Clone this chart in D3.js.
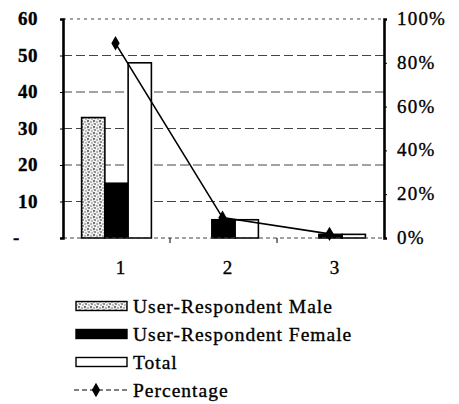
<!DOCTYPE html>
<html>
<head>
<meta charset="utf-8">
<script src="https://cdn.jsdelivr.net/npm/d3@7"></script>
<style>
  html, body { margin: 0; padding: 0; background: #fff; }
  svg { display: block; font-family: "Liberation Serif", "Times New Roman", serif; }
  text { fill: #000; stroke: #000; stroke-width: 0.35px; }
</style>
</head>
<body>
<svg id="chart" width="459" height="404"></svg>
<script>
// Respondent counts per group and the share of all users in each group
const categories = ["1", "2", "3"];
const seriesNames = ["User-Respondent Male", "User-Respondent Female", "Total"];
const maleValues = [33, 0, 0];
const femaleValues = [15, 5, 1];
const totalValues = [48, 5, 1];
const percentValues = [88.9, 9.3, 1.9];
const leftTicks = [0, 10, 20, 30, 40, 50, 60];
const leftTickLabels = ["-", "10", "20", "30", "40", "50", "60"];
const rightTicks = [0, 20, 40, 60, 80, 100];
const rightTickLabels = ["0%", "20%", "40%", "60%", "80%", "100%"];

const svg = d3.select("#chart");
const plot = { left: 63, right: 384, top: 19, bottom: 238 };

// stippled fill for the male bars
const defs = svg.append("defs");
const pat = defs.append("pattern")
  .attr("id", "stipple").attr("patternUnits", "userSpaceOnUse")
  .attr("width", 6).attr("height", 6);
pat.append("rect").attr("width", 6).attr("height", 6).attr("fill", "#f2f2f2");
[[1, 1, 1.1], [4, 2, 0.8], [2, 4, 0.9], [5, 5, 0.7], [0, 3, 0.6]].forEach(([cx, cy, r]) =>
  pat.append("circle").attr("cx", cx).attr("cy", cy).attr("r", r).attr("fill", "#666"));

const x0 = d3.scaleBand().domain(categories).range([plot.left, plot.right]).padding(0);
const x1 = d3.scaleBand().domain(seriesNames).range([0, x0.bandwidth()]).paddingInner(0).paddingOuter(0.8);
const yLeft = d3.scaleLinear().domain([0, 60]).range([plot.bottom, plot.top]);
const yRight = d3.scaleLinear().domain([0, 100]).range([plot.bottom, plot.top]);

// dashed gridlines
svg.append("g").selectAll("line").data(leftTicks.filter(d => d > 0)).join("line")
  .attr("x1", plot.left).attr("x2", plot.right)
  .attr("y1", d => yLeft(d)).attr("y2", d => yLeft(d))
  .attr("stroke", "#444").attr("stroke-width", 1)
  .attr("stroke-dasharray", d => d === 60 ? "3,4" : "9,4");

// bars
const seriesData = [maleValues, femaleValues, totalValues];
const fills = ["url(#stipple)", "#000", "#fff"];
const groups = svg.append("g").selectAll("g").data(categories).join("g")
  .attr("transform", d => `translate(${x0(d)},0)`);

// category axis baseline drawn under the bars
const gb = svg.append("g").attr("transform", `translate(0,${plot.bottom})`);
gb.append("line").attr("x1", plot.left).attr("x2", plot.right)
  .attr("stroke", "#444").attr("stroke-dasharray", "4,3");
gb.selectAll("line.tk").data(categories.slice(1)).join("line").attr("class", "tk")
  .attr("x1", d => x0(d)).attr("x2", d => x0(d)).attr("y1", 0).attr("y2", 5)
  .attr("stroke", "#000");
gb.selectAll("text").data(categories).join("text")
  .attr("x", d => x0(d) + x0.bandwidth() / 2 + 4).attr("y", 36)
  .attr("text-anchor", "middle").attr("font-size", 19)
  .text(d => d);

groups.raise();
groups.selectAll("rect")
  .data((c, i) => seriesNames.map((s, k) => ({ s, k, v: seriesData[k][i] })).filter(d => d.v > 0))
  .join("rect")
  .attr("x", d => x1(d.s)).attr("width", x1.bandwidth())
  .attr("y", d => yLeft(d.v)).attr("height", d => plot.bottom - yLeft(d.v))
  .attr("fill", d => fills[d.k]).attr("stroke", "#000").attr("stroke-width", 1.6);

// left axis
const leftAxis = d3.axisLeft(yLeft).tickValues(leftTicks).tickSize(3).tickFormat("");
const gl = svg.append("g").attr("transform", `translate(${plot.left},0)`).call(leftAxis);
gl.select(".domain").attr("stroke-width", 2.6);
svg.append("g").selectAll("text").data(leftTicks).join("text")
  .attr("x", (d, i) => i === 0 ? 13 : 38)
  .attr("y", d => yLeft(d) + 6)
  .attr("text-anchor", (d, i) => i === 0 ? "start" : "end")
  .attr("font-size", 19).attr("font-weight", "bold").attr("letter-spacing", 0.5)
  .text((d, i) => leftTickLabels[i]);

// right axis
const rightAxis = d3.axisRight(yRight).tickValues(rightTicks).tickSize(3).tickFormat("");
const gr = svg.append("g").attr("transform", `translate(${plot.right},0)`).call(rightAxis);
gr.select(".domain").attr("stroke-width", 2.6);
svg.append("g").selectAll("text").data(rightTicks).join("text")
  .attr("x", 397).attr("y", d => yRight(d) + 6)
  .attr("font-size", 19).attr("letter-spacing", 1.2)
  .text((d, i) => rightTickLabels[i]);

// percentage line with diamond markers
const pctPoints = categories.map((c, i) => [x0(c) + x0.bandwidth() / 2 - 1, yRight(percentValues[i])]);
svg.append("path").attr("d", d3.line()(pctPoints))
  .attr("fill", "none").attr("stroke", "#000").attr("stroke-width", 1.6);
const diamond = d3.symbol().type(d3.symbolDiamond).size(60);
svg.append("g").selectAll("path").data(pctPoints).join("path")
  .attr("transform", d => `translate(${d[0]},${d[1]})`)
  .attr("d", diamond).attr("fill", "#000");

// legend
const legendRows = [...seriesNames, "Percentage"];
const lg = svg.append("g");
const rowY = i => 306 + i * 28;
lg.selectAll("text").data(legendRows).join("text")
  .attr("x", 133).attr("y", (d, i) => rowY(i) + 6.5)
  .attr("font-size", 19.5).attr("letter-spacing", 1)
  .text(d => d);
seriesNames.forEach((s, k) => {
  lg.append("rect").attr("x", 76).attr("y", rowY(k) - 4.5).attr("width", 51).attr("height", 9)
    .attr("fill", fills[k]).attr("stroke", "#000").attr("stroke-width", 1.4);
});
lg.append("line").attr("x1", 74).attr("x2", 130).attr("y1", rowY(3)).attr("y2", rowY(3))
  .attr("stroke", "#000").attr("stroke-width", 1.2).attr("stroke-dasharray", "5,3");
lg.append("path").attr("transform", `translate(96,${rowY(3)})`).attr("d", diamond).attr("fill", "#000");
</script>
</body>
</html>
